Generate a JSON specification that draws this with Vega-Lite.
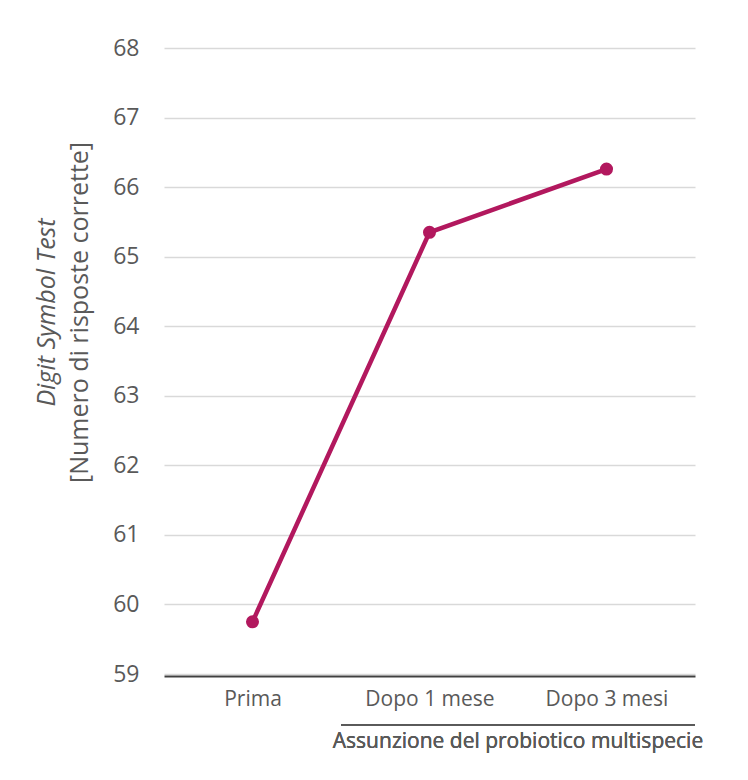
{
  "$schema": "https://vega.github.io/schema/vega-lite/v6.json",
  "autosize": "none",
  "width": 531,
  "height": 626,
  "padding": {"left": 164, "top": 48, "right": 53, "bottom": 106},
  "background": "white",
  "config": {
    "view": {"stroke": null},
    "font": "Open Sans",
    "axis": {"labelFont": "Open Sans", "titleFont": "Open Sans", "labelColor": "#595959", "titleColor": "#595959"}
  },
  "data": {
    "values": [
      {"periodo": "Prima", "punteggio": 59.75},
      {"periodo": "Dopo 1 mese", "punteggio": 65.35},
      {"periodo": "Dopo 3 mesi", "punteggio": 66.26}
    ]
  },
  "resolve": {"scale": {"x": "independent", "y": "independent"}},
  "layer": [
    {
      "mark": {"type": "line", "color": "#b2185e", "strokeWidth": 4.5},
      "encoding": {
        "x": {
          "field": "periodo", "type": "nominal", "sort": null,
          "axis": {
            "title": null, "labelAngle": 0, "labelFontSize": 21, "labelPadding": 12,
            "ticks": false, "domainColor": "#404040", "domainWidth": 2, "offset": 2, "grid": false
          }
        },
        "y": {
          "field": "punteggio", "type": "quantitative",
          "scale": {"domain": [59, 68], "zero": false, "nice": false},
          "axis": {
            "values": [59, 60, 61, 62, 63, 64, 65, 66, 67, 68],
            "title": "[Numero di risposte corrette]", "titleFontSize": 25, "titleFontWeight": "normal",
            "titlePadding": 20, "titleY": 264,
            "labelFontSize": 23, "labelPadding": 25, "ticks": false, "domain": false,
            "gridColor": "#d9d9d9", "gridWidth": 1.5
          }
        }
      }
    },
    {
      "mark": {"type": "point", "filled": true, "opacity": 1, "color": "#b2185e", "size": 170},
      "encoding": {
        "x": {"field": "periodo", "type": "nominal", "sort": null, "axis": null},
        "y": {
          "field": "punteggio", "type": "quantitative",
          "scale": {"domain": [59, 68], "zero": false, "nice": false},
          "axis": {
            "orient": "left", "title": "Digit Symbol Test", "titleFontSize": 25, "titleFontWeight": "normal",
            "titleFontStyle": "italic", "titlePadding": 105, "titleY": 264,
            "labels": false, "ticks": false, "domain": false, "grid": false
          }
        }
      }
    },
    {
      "mark": {"type": "rule", "color": "#595959", "strokeWidth": 1.8},
      "encoding": {
        "x": {"datum": 1, "type": "quantitative", "scale": {"domain": [0, 3], "nice": false, "zero": false}, "axis": null},
        "x2": {"datum": 3},
        "y": {"datum": 58.27, "type": "quantitative", "scale": {"domain": [59, 68], "zero": false, "nice": false}, "axis": null}
      }
    },
    {
      "mark": {"type": "text", "color": "#595959", "fontSize": 21, "fontWeight": "normal", "font": "Open Sans", "baseline": "middle", "align": "center"},
      "encoding": {
        "x": {"datum": 2, "type": "quantitative", "scale": {"domain": [0, 3], "nice": false, "zero": false}, "axis": null},
        "y": {"datum": 58.02, "type": "quantitative", "scale": {"domain": [59, 68], "zero": false, "nice": false}, "axis": null},
        "text": {"value": "Assunzione del probiotico multispecie"}
      }
    }
  ]
}
